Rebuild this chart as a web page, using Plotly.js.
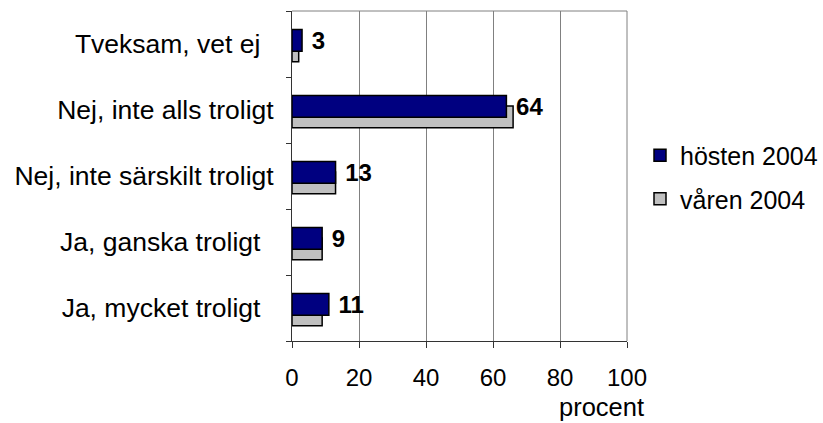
<!DOCTYPE html>
<html>
<head>
<meta charset="utf-8">
<script src="https://cdn.plot.ly/plotly-3.0.1.min.js"></script>
<style>html,body{margin:0;padding:0;background:#fff;}#chart{width:823px;height:423px;}</style>
</head>
<body>
<div id="chart"></div>
<script>
// categories listed bottom to top
const categories = ["Ja, mycket troligt", "Ja, ganska troligt", "Nej, inte särskilt troligt", "Nej, inte alls troligt", "Tveksam, vet ej"];
const tickLabels = ["Ja, mycket troligt\u2002", "Ja, ganska troligt\u2002", "Nej, inte särskilt troligt", "Nej, inte alls troligt", "Tveksam, vet ej\u2002"];
const hosten2004 = [11, 9, 13, 64, 3];
const varen2004 = [9, 9, 13, 66, 2];
const seriesNames = ["hösten 2004", "våren 2004"];
const xTicks = [0, 20, 40, 60, 80, 100];

const FONT = "Liberation Sans, Arial, sans-serif";

const traceVaren = {
  type: "bar", orientation: "h",
  y: categories, x: varen2004,
  name: seriesNames[1], legendgroup: "b", legendrank: 2,
  width: 0.33, offset: -0.27,
  marker: {color: "#C0C0C0", line: {color: "#000000", width: 1.5}},
  hoverinfo: "skip"
};
const traceHosten = {
  type: "bar", orientation: "h",
  y: categories, x: hosten2004,
  name: seriesNames[0], legendgroup: "a", legendrank: 1,
  width: 0.33, offset: -0.11,
  marker: {color: "#000080", line: {color: "#000000", width: 1.5}},
  text: hosten2004.map(v => "\u00a0" + v),
  textposition: "outside",
  constraintext: "none",
  cliponaxis: false,
  textfont: {family: FONT, size: 24, color: "#000", weight: "bold"},
  hoverinfo: "skip"
};

const layout = {
  width: 823, height: 423,
  margin: {l: 292, r: 196, t: 11, b: 82},
  paper_bgcolor: "#fff", plot_bgcolor: "#fff",
  font: {family: FONT, size: 24, color: "#000"},
  barmode: "overlay",
  showlegend: true,
  legend: {
    xref: "container", yref: "container",
    x: 640 / 823, xanchor: "left", y: 1 - 177 / 423, yanchor: "middle",
    traceorder: "grouped", tracegroupgap: 8,
    font: {family: FONT, size: 25, color: "#000"},
    bgcolor: "rgba(0,0,0,0)", borderwidth: 0
  },
  xaxis: {
    range: [0, 100], tickvals: xTicks, ticktext: xTicks.map(String),
    tickfont: {family: FONT, size: 24, color: "#000"},
    showgrid: true, gridcolor: "#808080", gridwidth: 1,
    showline: true, linecolor: "#333", linewidth: 1,
    ticks: "outside", ticklen: 6, tickcolor: "#333",
    ticklabelstandoff: 9,
    automargin: false,
    zeroline: false, fixedrange: true
  },
  yaxis: {
    type: "category", categoryorder: "array", categoryarray: categories,
    tickvals: categories, ticktext: tickLabels,
    tickfont: {family: FONT, size: 26.5, color: "#000"},
    tickson: "boundaries",
    showgrid: false,
    showline: true, linecolor: "#333", linewidth: 1,
    ticks: "outside", ticklen: 5, tickcolor: "#333",
    ticklabelstandoff: 12,
    automargin: false,
    zeroline: false, fixedrange: true
  },
  shapes: [
    {type: "line", xref: "paper", yref: "paper", x0: 0, x1: 1, y0: 1, y1: 1, line: {color: "#808080", width: 1}},
    {type: "line", xref: "paper", yref: "paper", x0: 1, x1: 1, y0: 0, y1: 1, line: {color: "#808080", width: 1}}
  ],
  annotations: [
    {text: "procent", xref: "paper", yref: "paper", x: 1.057, y: -0.2, xanchor: "right", yanchor: "middle", showarrow: false, font: {family: FONT, size: 25.5, color: "#000"}}
  ]
};

Plotly.newPlot("chart", [traceVaren, traceHosten], layout, {displayModeBar: false, staticPlot: true});
</script>
</body>
</html>
